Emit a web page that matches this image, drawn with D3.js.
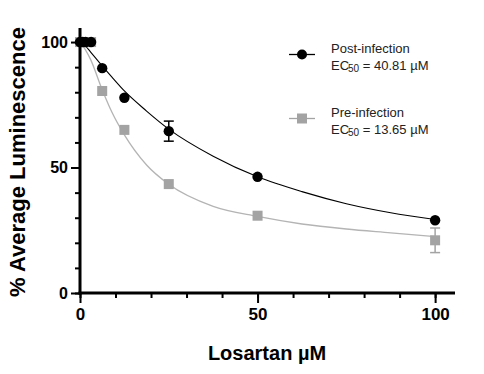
<!DOCTYPE html>
<meta charset="utf-8">
<head>
<script src="https://d3js.org/d3.v7.min.js"></script>
<style>
body { margin: 0; background: #fff; }
svg { display: block; font-family: Arial, "Liberation Sans", sans-serif; }
.tick text { font-weight: bold; fill: #000; }
</style>
</head>
<body>
<script>
// dose (uM) and response (% luminescence)
var doses = [0, 0.78, 1.56, 3.125, 6.25, 12.5, 25, 50, 100]
var postMean = [100, 100, 100, 100, 89.6, 77.8, 64.5, 46.3, 29]
var postErr  = [0, 0, 0, 0, 1, 1, 4, 1, 1]
var preMean  = [100, 100, 100, 100, 80.5, 65, 43.4, 30.8, 21]
var preErr   = [0, 0, 0, 0, 1, 1, 1, 1, 4.9]

// fitted curves
var fitX    = [0, 1.5, 3, 6.25, 9, 12.5, 18.75, 25, 37.5, 50, 62.5, 75, 87.5, 100]
var postFit = [100, 98.5, 96, 90.5, 86, 80.5, 72.5, 65.3, 54.5, 46.3, 40.4, 35.6, 32, 29.3]
var preFit  = [100, 97, 93, 81, 72, 63, 51, 43.3, 34.5, 30.5, 27.5, 25.5, 24, 22.5]

var xMajor = [0, 50, 100]
var yMajor = [0, 50, 100]
var xMinor = d3.range(0, 101, 10)
var yMinor = d3.range(0, 101, 10)

var legendItems = [
  {name: "Post-infection", ec: "40.81", shape: "circle"},
  {name: "Pre-infection", ec: "13.65", shape: "square"}
]

width = 484
height = 374
var grey = "#a3a3a3"

x = d3.scaleLinear().domain([0, 105.6]).range([80, 455])
y = d3.scaleLinear().domain([0, 105.6]).range([293, 28])

var svg = d3.select("body").append("svg")
  .attr("width", width)
  .attr("height", height)

// fit lines
var line = d3.line().x(d => x(d[0])).y(d => y(d[1])).curve(d3.curveMonotoneX)

svg.append("path")
  .datum(fitX.map((v, i) => [v, preFit[i]]))
  .attr("fill", "none").attr("stroke", "#b4b4b4").attr("stroke-width", 1.3)
  .attr("d", line)

svg.append("path")
  .datum(fitX.map((v, i) => [v, postFit[i]]))
  .attr("fill", "none").attr("stroke", "#000").attr("stroke-width", 1.1)
  .attr("d", line)

// error bars
function errBars(mean, err, color) {
  var g = svg.append("g").attr("stroke", color).attr("stroke-width", 1.5)
  doses.forEach((d, i) => {
    if (err[i] < 2) return
    var cx = x(d)
    g.append("line").attr("x1", cx).attr("x2", cx)
      .attr("y1", y(mean[i] - err[i])).attr("y2", y(mean[i] + err[i]))
    ;[-1, 1].forEach(s => g.append("line")
      .attr("x1", cx - 5).attr("x2", cx + 5)
      .attr("y1", y(mean[i] + s * err[i])).attr("y2", y(mean[i] + s * err[i])))
  })
}
errBars(preMean, preErr, grey)
errBars(postMean, postErr, "#000")

// points
svg.append("g").selectAll("rect")
  .data(doses)
  .join("rect")
    .attr("x", (d, i) => x(d) - 5)
    .attr("y", (d, i) => y(preMean[i]) - 5)
    .attr("width", 10).attr("height", 10)
    .attr("fill", grey)

svg.append("g").selectAll("circle")
  .data(doses)
  .join("circle")
    .attr("cx", d => x(d))
    .attr("cy", (d, i) => y(postMean[i]))
    .attr("r", 5.2)
    .attr("fill", "#000")

// axes
svg.append("g")
  .attr("transform", "translate(80,0)")
  .call(d3.axisLeft(y).tickValues(yMinor).tickSize(5).tickFormat(""))
  .call(g => g.select(".domain").remove())
  .call(g => g.selectAll("line").attr("stroke-width", 2))

svg.append("g")
  .attr("transform", "translate(80,0)")
  .call(d3.axisLeft(y).tickValues(yMajor).tickSize(9).tickPadding(3))
  .call(g => g.select(".domain").remove())
  .call(g => g.selectAll("line").attr("stroke-width", 2))
  .call(g => g.selectAll("text").attr("font-size", 16))

svg.append("g")
  .attr("transform", "translate(0,293)")
  .call(d3.axisBottom(x).tickValues(xMinor).tickSize(5).tickFormat(""))
  .call(g => g.select(".domain").remove())
  .call(g => g.selectAll("line").attr("stroke-width", 2))

svg.append("g")
  .attr("transform", "translate(0,293)")
  .call(d3.axisBottom(x).tickValues(xMajor).tickSize(10).tickPadding(5))
  .call(g => g.select(".domain").remove())
  .call(g => g.selectAll("line").attr("stroke-width", 2))
  .call(g => g.selectAll("text").attr("font-size", 17))

svg.append("line")
  .attr("x1", 80).attr("x2", 80).attr("y1", 28).attr("y2", 294.5)
  .attr("stroke", "#000").attr("stroke-width", 3)
svg.append("line")
  .attr("x1", 78.5).attr("x2", 455).attr("y1", 293).attr("y2", 293)
  .attr("stroke", "#000").attr("stroke-width", 3)

// axis titles
svg.append("text")
  .attr("x", 267).attr("y", 360)
  .attr("text-anchor", "middle")
  .attr("font-size", 20).attr("font-weight", "bold")
  .text("Losartan \u00b5M")

svg.append("text")
  .attr("transform", "translate(25,162) rotate(-90)")
  .attr("text-anchor", "middle")
  .attr("font-size", 22).attr("font-weight", "bold")
  .text("% Average Luminescence")

// legend
var leg = svg.append("g").selectAll("g")
  .data(legendItems)
  .join("g")
    .attr("transform", (d, i) => `translate(0,${i * 64})`)

leg.append("line")
  .attr("x1", 289).attr("x2", 315).attr("y1", 54.5).attr("y2", 54.5)
  .attr("stroke", d => d.shape == "circle" ? "#000" : grey).attr("stroke-width", 1.3)
leg.filter(d => d.shape == "circle").append("circle")
  .attr("cx", 302).attr("cy", 54.5).attr("r", 5).attr("fill", "#000")
leg.filter(d => d.shape == "square").append("rect")
  .attr("x", 297).attr("y", 49.5).attr("width", 10).attr("height", 10).attr("fill", grey)

leg.append("text")
  .attr("x", 331).attr("y", 53)
  .attr("font-size", 13).attr("fill", "#222")
  .text(d => d.name)

var ec = leg.append("text")
  .attr("x", 331).attr("y", 70)
  .attr("font-size", 13).attr("fill", "#222")
ec.append("tspan").text("EC")
ec.append("tspan").attr("font-size", 10).attr("dy", 2).attr("dx", -1).text("50")
ec.append("tspan").attr("dy", -2).text(d => " = " + d.ec + " \u00b5M")
</script>
</body>
